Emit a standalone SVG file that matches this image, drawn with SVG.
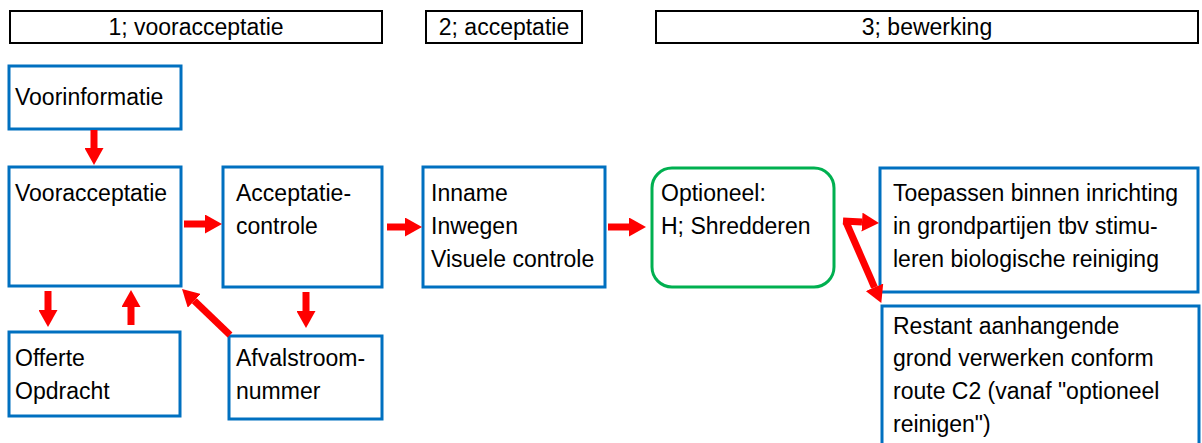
<svg xmlns="http://www.w3.org/2000/svg" width="1202" height="443" viewBox="0 0 1202 443">
  <style>
    text { font-family: "Liberation Sans", Arial, sans-serif; font-size: 23px; fill: #000; }
    .phase { fill: #fff; stroke: #000; stroke-width: 2; }
    .box { fill: #fff; stroke: #0070C0; stroke-width: 3; }
    .opt { fill: #fff; stroke: #00B050; stroke-width: 3; }
    .mid { text-anchor: middle; }
    .arrow { stroke: #FF0000; stroke-width: 7; fill: none; marker-end: url(#head); }
  </style>
  <defs>
    <marker id="head" markerUnits="userSpaceOnUse" markerWidth="17" markerHeight="19" refX="0" refY="9.5" orient="auto">
      <path d="M0,0 L17,9.5 L0,19 Z" fill="#FF0000"/>
    </marker>
  </defs>

  <rect width="1202" height="443" fill="#fff"/>

  <!-- phase headers -->
  <g id="phase1">
    <rect class="phase" x="10" y="11" width="372" height="32"/>
    <text class="mid" x="196" y="35">1; vooracceptatie</text>
  </g>
  <g id="phase2">
    <rect class="phase" x="426" y="11" width="156" height="32"/>
    <text class="mid" x="504" y="35">2; acceptatie</text>
  </g>
  <g id="phase3">
    <rect class="phase" x="656" y="11" width="542" height="32"/>
    <text class="mid" x="927" y="35">3; bewerking</text>
  </g>

  <!-- process steps -->
  <g id="voorinformatie">
    <rect class="box" x="9" y="66" width="172" height="63"/>
    <text x="15" y="105">Voorinformatie</text>
  </g>
  <g id="vooracceptatie">
    <rect class="box" x="9" y="167" width="172" height="119"/>
    <text x="15" y="201">Vooracceptatie</text>
  </g>
  <g id="acceptatiecontrole">
    <rect class="box" x="223" y="167" width="159" height="120"/>
    <text x="236" y="201">Acceptatie-</text>
    <text x="236" y="234">controle</text>
  </g>
  <g id="inname">
    <rect class="box" x="423" y="167" width="182" height="120"/>
    <text x="431" y="201">Inname</text>
    <text x="431" y="234">Inwegen</text>
    <text x="431" y="267">Visuele controle</text>
  </g>
  <g id="optioneel">
    <rect class="opt" x="652" y="168" width="182" height="119" rx="20" ry="20"/>
    <text x="661" y="201">Optioneel:</text>
    <text x="661" y="234">H; Shredderen</text>
  </g>
  <g id="toepassen">
    <rect class="box" x="880" y="168" width="318" height="124"/>
    <text x="893" y="201">Toepassen binnen inrichting</text>
    <text x="893" y="234">in grondpartijen tbv stimu-</text>
    <text x="893" y="267">leren biologische reiniging</text>
  </g>
  <g id="restant">
    <rect class="box" x="882" y="306" width="317" height="150"/>
    <text x="893" y="334">Restant aanhangende</text>
    <text x="893" y="366">grond verwerken conform</text>
    <text x="893" y="399">route C2 (vanaf "optioneel</text>
    <text x="893" y="432">reinigen")</text>
  </g>
  <g id="offerte">
    <rect class="box" x="9" y="332" width="171" height="84"/>
    <text x="15" y="366">Offerte</text>
    <text x="15" y="399">Opdracht</text>
  </g>
  <g id="afvalstroomnummer">
    <rect class="box" x="229" y="336" width="153" height="83"/>
    <text x="236" y="366">Afvalstroom-</text>
    <text x="236" y="399">nummer</text>
  </g>

  <!-- connectors: each line stops where its arrowhead begins -->
  <g id="connectors">
    <line class="arrow" x1="94" y1="130" x2="94" y2="148"/>
    <line class="arrow" x1="184" y1="224" x2="205" y2="224"/>
    <line class="arrow" x1="387" y1="227" x2="405" y2="227"/>
    <line class="arrow" x1="608" y1="227" x2="629" y2="227"/>
    <line class="arrow" x1="843" y1="221" x2="862" y2="222.1"/>
    <line class="arrow" x1="846" y1="222" x2="874.5" y2="287.3"/>
    <line class="arrow" x1="48" y1="291" x2="48" y2="310"/>
    <line class="arrow" x1="131" y1="325" x2="131" y2="307"/>
    <line class="arrow" x1="306" y1="292" x2="306" y2="311"/>
    <line class="arrow" x1="230" y1="335" x2="194.3" y2="300.8"/>
  </g>
</svg>
